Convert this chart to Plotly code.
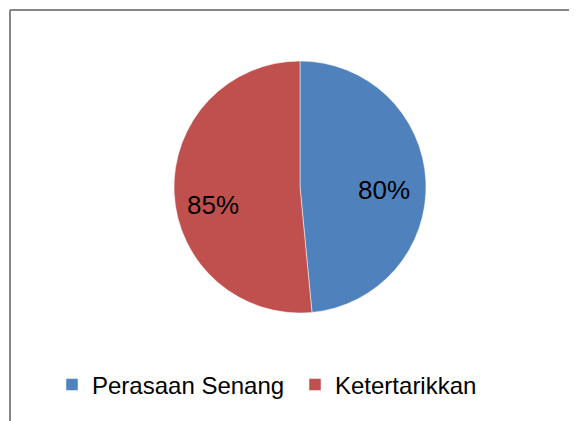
import plotly.graph_objects as go

labels = ["Perasaan Senang", "Ketertarikkan"]
values = [80, 85]
colors = ["#4F81BD", "#C0504D"]

W, H = 577, 421
OFF = 8  # page body margin offset
cx, cy, r = 300 - OFF, 187 - OFF, 126

# label positions (screen px) for each slice
label_pos = [(384, 190), (213, 205)]

fig = go.Figure(go.Pie(
    labels=labels,
    values=values,
    sort=False,
    direction="clockwise",
    rotation=0,
    marker=dict(colors=colors, line=dict(color="white", width=0.5)),
    textinfo="none",
    hoverinfo="skip",
    domain=dict(x=[(cx - 2 * r) / W, (cx + 2 * r) / W],
                y=[(H - cy - r) / H, (H - cy + r) / H]),
))

annotations = []
for v, (px, py) in zip(values, label_pos):
    annotations.append(dict(
        text=f"{v}%", xref="paper", yref="paper",
        x=(px - OFF) / W, y=(H - (py - OFF)) / H,
        xanchor="center", yanchor="middle", showarrow=False,
        font=dict(family="Liberation Sans, Arial", size=26, color="black"),
    ))

fig.update_layout(
    width=W, height=H,
    margin=dict(l=0, r=0, t=0, b=0),
    paper_bgcolor="white",
    plot_bgcolor="white",
    font=dict(family="Liberation Sans, Arial", size=24, color="black"),
    showlegend=True,
    legend=dict(orientation="h", x=(52 - OFF) / W, xanchor="left",
                y=(H - (385 - OFF)) / H, yanchor="middle",
                font=dict(size=24), itemwidth=30, tracegroupgap=0,
                entrywidth=198, entrywidthmode="pixels"),
    annotations=annotations,
    shapes=[
        dict(type="line", xref="paper", yref="paper", x0=(10 - OFF) / W, x1=1.05,
             y0=(H - (10 - OFF)) / H, y1=(H - (10 - OFF)) / H,
             line=dict(color="#868686", width=2)),
        dict(type="line", xref="paper", yref="paper", x0=(10 - OFF) / W, x1=(10 - OFF) / W,
             y0=(H - (10 - OFF)) / H, y1=-0.05,
             line=dict(color="#868686", width=2)),
    ],
)

fig.write_html("out.html")
